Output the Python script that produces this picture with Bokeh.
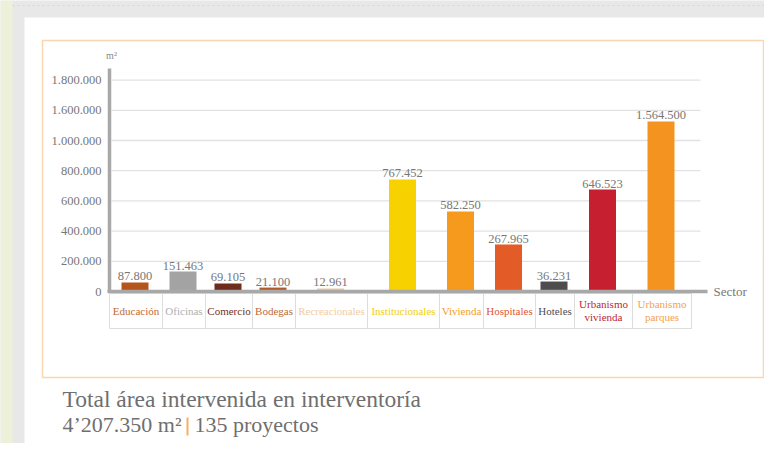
from bokeh.plotting import figure
from bokeh.models import Range1d, LinearAxis, FixedTicker, ColumnDataSource
from bokeh.core.properties import value
from bokeh.embed import file_html
from bokeh.resources import INLINE

# ---------------- data ----------------
sectores = ["Educación", "Oficinas", "Comercio", "Bodegas", "Recreacionales",
            "Institucionales", "Vivienda", "Hospitales", "Hoteles",
            "Urbanismo\nvivienda", "Urbanismo\nparques"]
valores = [87800, 151463, 69105, 21100, 12961, 767452, 582250, 267965, 36231,
           646523, 1564500]
# bar heights as drawn against the printed axis
alturas = [60000, 132000, 53000, 26000, 20000, 742000, 530000, 311000, 66000,
           675000, 1126000]
y_ticks = [0, 200000, 400000, 600000, 800000, 1000000, 1200000, 1400000]
y_tick_labels = ["0", "200.000", "400.000", "600.000", "800.000",
                 "1.000.000", "1.600.000", "1.800.000"]
titulo = "Total área intervenida en interventoría"
total_txt = "4’207.350 m²"
proyectos_txt = "135 proyectos"

# ---------------- style / layout ----------------
colores_barra = ["#b4561c", "#a3a3a3", "#6e2c1c", "#b25a2a", "#ebcaa0",
                 "#f7d100", "#f59a1c", "#e35b27", "#4d4d4d", "#c51f30", "#f4931f"]
colores_texto = ["#c2682f", "#b0b0b0", "#733229", "#bf6934", "#efcca5",
                 "#f3cf00", "#f59c28", "#df5535", "#4f4f4f", "#c02538", "#f4a24a"]
celdas = [109, 162, 205, 252, 295, 367, 439, 483, 535, 574, 632, 691]
W, H = 764, 443
PX0, PY0 = 0, 0                # screen offset of the figure
Y0 = 291                        # screen y of value 0
PX_PER_200K = 30.2
k = 200000 / PX_PER_200K
SERIF = value("Liberation Serif")

def fmt(v):
    return f"{v:,}".replace(",", ".")

p = figure(width=W, height=H, output_backend="svg", toolbar_location=None,
           x_axis_type=None, y_axis_type=None,
           x_range=Range1d(PX0, PX0 + W),
           y_range=Range1d(-(PY0 + H - Y0) * k, (Y0 - PY0) * k),
           min_border=0, min_border_left=0, min_border_right=0,
           min_border_top=0, min_border_bottom=0)
p.extra_y_ranges = {"px": Range1d(PY0 + H, PY0)}
p.background_fill_color = "#e8e8e8"
p.border_fill_color = "#e8e8e8"
p.outline_line_color = None
p.xgrid.visible = False
p.ygrid.visible = False

# page decoration
p.quad(left=[PX0], right=[12], top=[PY0], bottom=[PY0 + H], y_range_name="px",
       fill_color="#eef1da", line_color=None)
p.segment(x0=[12], x1=[PX0 + W], y0=[5], y1=[5], y_range_name="px",
          line_color="#d6dbc0", line_width=1, line_dash="2 3")
p.quad(left=[24], right=[PX0 + W], top=[17], bottom=[452], y_range_name="px",
       fill_color="#ffffff", line_color=None)
p.quad(left=[42], right=[763], top=[40], bottom=[377], y_range_name="px",
       fill_color=None, line_color="#f9d6ad", line_width=1.5)

# gridlines
p.segment(x0=[111] * 7, x1=[700] * 7, y0=y_ticks[1:], y1=y_ticks[1:],
          line_color="#e2e2e2", line_width=1.3)

# category cells
centros = [(celdas[i] + celdas[i + 1]) / 2 for i in range(len(sectores))]
p.quad(left=celdas[:-1], right=celdas[1:], top=[293] * len(sectores),
       bottom=[328] * len(sectores), y_range_name="px",
       fill_color=None, line_color="#dddddd", line_width=1)

# bars
src = ColumnDataSource(dict(x=[c - 1 for c in centros], top=alturas,
                            color=colores_barra,
                            lab=[fmt(v) for v in valores],
                            sec=sectores, tcol=colores_texto, cx=centros))
p.vbar(x="x", top="top", bottom=0, width=27, fill_color="color",
       line_color=None, source=src)
p.text(x="x", y="top", text="lab", source=src, text_align="center",
       text_baseline="bottom", y_offset=-2, text_font=SERIF,
       text_font_size="12.5px", text_color="#777777")
p.text(x="cx", y=310, text="sec", source=src,
       y_range_name="px", text_align="center", text_baseline="middle",
       text_font=SERIF, text_font_size="11px", text_color="tcol",
       text_line_height=1.1)

# axes
yax = LinearAxis(ticker=FixedTicker(ticks=y_ticks),
                 major_label_overrides={t: l for t, l in zip(y_ticks, y_tick_labels)},
                 fixed_location=109, bounds=(0, (Y0 - 68) * k),
                 axis_line_color="#a8a8a8", axis_line_width=3.5,
                 major_tick_line_color=None, minor_tick_line_color=None,
                 major_label_standoff=2,
                 major_label_text_font="Liberation Serif",
                 major_label_text_font_size="12.5px",
                 major_label_text_color="#777777")
p.add_layout(yax, "left")
xax = LinearAxis(ticker=FixedTicker(ticks=[]), fixed_location=0,
                 bounds=(107, 707), axis_line_color="#a8a8a8",
                 axis_line_width=3.5, major_tick_line_color=None,
                 minor_tick_line_color=None, major_label_text_font_size="0px")
p.add_layout(xax, "below")

p.text(x=[111], y=[55], text=["m²"], y_range_name="px", text_align="center",
       text_baseline="middle", text_font=SERIF, text_font_size="10px",
       text_color="#888888")
p.text(x=[713], y=[291], text=["Sector"], y_range_name="px",
       text_align="left", text_baseline="middle", text_font=SERIF,
       text_font_size="13px", text_color="#777777")

# footer texts
p.text(x=[62], y=[398], text=[titulo], y_range_name="px",
       text_align="left", text_baseline="middle", text_font=SERIF,
       text_font_size="23.5px", text_color="#6f6f6f")
p.text(x=[62], y=[424], text=[total_txt], y_range_name="px",
       text_align="left", text_baseline="middle", text_font=SERIF,
       text_font_size="22px", text_color="#6f6f6f")
p.segment(x0=[187], x1=[187], y0=[417], y1=[435], y_range_name="px",
          line_color="#f5b060", line_width=2)
p.text(x=[194], y=[424], text=[proyectos_txt], y_range_name="px",
       text_align="left", text_baseline="middle", text_font=SERIF,
       text_font_size="22px", text_color="#6f6f6f")

open("out.html", "w").write(file_html(p, INLINE))
